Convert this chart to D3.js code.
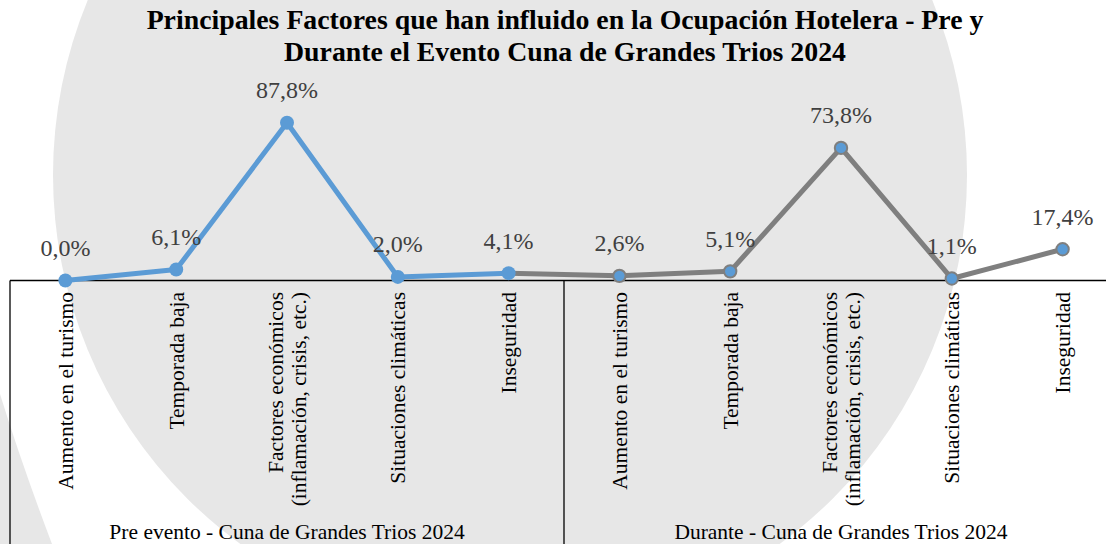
<!DOCTYPE html>
<html>
<head>
<meta charset="utf-8">
<script src="https://cdn.jsdelivr.net/npm/d3@7"></script>
<style>
  html, body { margin: 0; padding: 0; background: #fff; }
  svg { display: block; }
  text { font-family: "Liberation Serif", "Times New Roman", serif; }
</style>
</head>
<body>
<svg id="chart" width="1106" height="544"></svg>
<script>
// ---- Data ----
const titleLines = [
  "Principales Factores que han influido en la Ocupación Hotelera - Pre y",
  "Durante el Evento Cuna de Grandes Trios 2024"
];
const groups = ["Pre evento - Cuna de Grandes Trios 2024", "Durante - Cuna de Grandes Trios 2024"];
const factors = [
  "Aumento en el turismo",
  "Temporada baja",
  "Factores económicos\n(inflamación, crisis, etc.)",
  "Situaciones climáticas",
  "Inseguridad"
];
const preValues = [0.0, 6.1, 87.8, 2.0, 4.1];
const duranteValues = [2.6, 5.1, 73.8, 1.1, 17.4];

// ---- Build table ----
const rows = [];
[preValues, duranteValues].forEach((vals, g) => {
  vals.forEach((v, i) => rows.push({ key: g + "-" + i, group: g, factor: factors[i], value: v }));
});

const W = 1106, H = 544;
const svg = d3.select("#chart");

// background decoration
svg.append("rect").attr("width", W).attr("height", H).attr("fill", "#ffffff");
svg.append("circle").attr("cx", 510).attr("cy", 175).attr("r", 457).attr("fill", "#e7e7e7");
svg.append("path").attr("d", "M0,394 Q22,465 52,544 L0,544 Z").attr("fill", "#e7e7e7");

// scales
const axisY = 280.5;
const x = d3.scaleBand().domain(rows.map(d => d.key)).range([10, 1118]).padding(0);
const y = d3.scaleLinear().domain([0, 100]).range([axisY, axisY - 179.7]);
const cx = d => x(d.key) + x.bandwidth() / 2;

// axis frame
const frame = svg.append("g").attr("stroke", "#000").attr("stroke-width", 1.3);
frame.append("line").attr("x1", 10).attr("x2", W).attr("y1", axisY).attr("y2", axisY);
[0, 1].forEach(g => {
  const gx = x(g + "-0");
  frame.append("line").attr("x1", gx).attr("x2", gx).attr("y1", axisY).attr("y2", H);
});

// category labels (rotated)
const catG = svg.append("g");
rows.forEach(d => {
  const lines = d.factor.split("\n");
  const t = catG.append("text")
    .attr("transform", `translate(${cx(d)},292) rotate(-90)`)
    .attr("text-anchor", "end")
    .attr("font-size", 21.5)
    .attr("fill", "#000");
  lines.forEach((ln, k) => {
    t.append("tspan")
      .attr("x", 0)
      .attr("dy", k === 0 ? (0.35 - 0.52 * (lines.length - 1)) + "em" : "1.04em")
      .text(ln);
  });
});

// group labels
groups.forEach((gName, g) => {
  const x0 = x(g + "-0"), x1 = x(g + "-4") + x.bandwidth();
  svg.append("text")
    .attr("x", (x0 + x1) / 2)
    .attr("y", 539)
    .attr("text-anchor", "middle")
    .attr("font-size", 21.5)
    .attr("fill", "#000")
    .text(gName);
});

// line segments
const blue = "#5b9bd5", gray = "#7f7f7f";
const line = d3.line().x(d => cx(d)).y(d => y(d.value));
for (let i = 0; i < rows.length - 1; i++) {
  svg.append("path")
    .attr("d", line([rows[i], rows[i + 1]]))
    .attr("fill", "none")
    .attr("stroke", i < 4 ? blue : gray)
    .attr("stroke-width", 5)
    .attr("stroke-linecap", "round");
}

// markers
svg.append("g").selectAll("circle").data(rows).join("circle")
  .attr("cx", cx).attr("cy", d => y(d.value))
  .attr("r", d => d.group === 0 ? 7 : 6.2)
  .attr("fill", blue)
  .attr("stroke", d => d.group === 0 ? "none" : gray)
  .attr("stroke-width", 2);

// value labels
const fmt = v => d3.format(".1f")(v).replace(".", ",") + "%";
svg.append("g").selectAll("text").data(rows).join("text")
  .attr("x", cx)
  .attr("y", d => y(d.value) - 24.5)
  .attr("text-anchor", "middle")
  .attr("font-size", 24)
  .attr("fill", "#404040")
  .text(d => fmt(d.value));

// title
titleLines.forEach((t, i) => {
  svg.append("text")
    .attr("x", 565)
    .attr("y", 29 + i * 32)
    .attr("text-anchor", "middle")
    .attr("font-size", 27.8)
    .attr("font-weight", "bold")
    .attr("fill", "#000")
    .text(t);
});
</script>
</body>
</html>
